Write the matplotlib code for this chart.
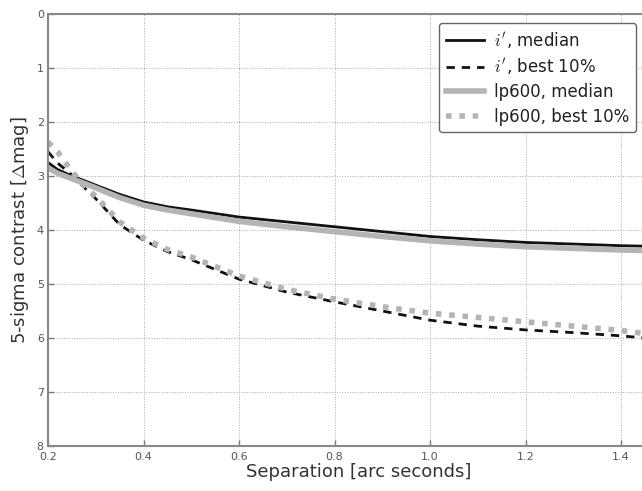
import numpy as np
import matplotlib.pyplot as plt

sep = [0.20, 0.22, 0.25, 0.28, 0.30, 0.35, 0.40, 0.45, 0.50, 0.60, 0.70, 0.80, 0.90, 1.00,
       1.10, 1.20, 1.30, 1.40, 1.45]

ip_median = [2.75, 2.88, 3.00, 3.10, 3.17, 3.34, 3.48, 3.57, 3.63, 3.76, 3.85, 3.94, 4.03, 4.12,
             4.18, 4.23, 4.26, 4.29, 4.30]
ip_best = [2.55, 2.76, 2.98, 3.25, 3.42, 3.90, 4.19, 4.40, 4.55, 4.91, 5.15, 5.33, 5.50, 5.67,
           5.78, 5.85, 5.90, 5.96, 6.00]
lp_median = [2.85, 2.95, 3.05, 3.15, 3.22, 3.40, 3.54, 3.63, 3.70, 3.84, 3.94, 4.03, 4.12, 4.20,
             4.26, 4.31, 4.34, 4.37, 4.38]
lp_best = [2.37, 2.55, 2.92, 3.22, 3.38, 3.85, 4.15, 4.36, 4.50, 4.85, 5.10, 5.28, 5.42, 5.54,
           5.62, 5.70, 5.78, 5.86, 5.92]

plt.rcParams['font.family'] = 'DejaVu Sans'
plt.rcParams['mathtext.fontset'] = 'cm'

fig = plt.figure(figsize=(6.42, 4.91), dpi=100)
ax = fig.add_axes([0.0748, 0.0916, 0.967, 0.8799])

ax.plot(sep, ip_median, color='#111111', lw=2.0, label="$i'$, median")
ax.plot(sep, ip_best, color='#111111', lw=2.0, ls=(0, (3, 2.5)), label="$i'$, best 10%")
ax.plot(sep, lp_median, color='#b4b4b4', lw=4.0, label="lp600, median")
ax.plot(sep, lp_best, color='#b4b4b4', lw=4.0, ls=(0, (1, 1.4)), label="lp600, best 10%")

ax.set_xlim(0.2, 1.5)
ax.set_ylim(8, 0)
ax.set_xticks([0.2, 0.4, 0.6, 0.8, 1.0, 1.2, 1.4])
ax.set_yticks(range(0, 9))
ax.grid(True, ls=':', color='#aaaaaa', lw=0.7)
ax.tick_params(direction='in', length=4, width=1, colors='#777777', labelsize=8,
               labelcolor='#555555', pad=3, top=False, right=False)
ax.tick_params(axis='x', pad=4)
for s in ax.spines.values():
    s.set_color('#888888')
    s.set_linewidth(1.5)
ax.spines['right'].set_visible(False)

ax.set_xlabel('Separation [arc seconds]', fontsize=13, color='#333333', labelpad=1)
ax.set_ylabel(r'5-sigma contrast [$\Delta$mag]', fontsize=13, color='#333333', labelpad=4)

leg = ax.legend(loc='upper right', bbox_to_anchor=(0.947, 0.979), borderaxespad=0,
                fontsize=12, handlelength=2.3, fancybox=True, framealpha=1,
                edgecolor='#666666', labelspacing=0.4, borderpad=0.4, handletextpad=0.6)
for t in leg.get_texts():
    t.set_color('#222222')

fig.savefig('out.png', dpi=100)
